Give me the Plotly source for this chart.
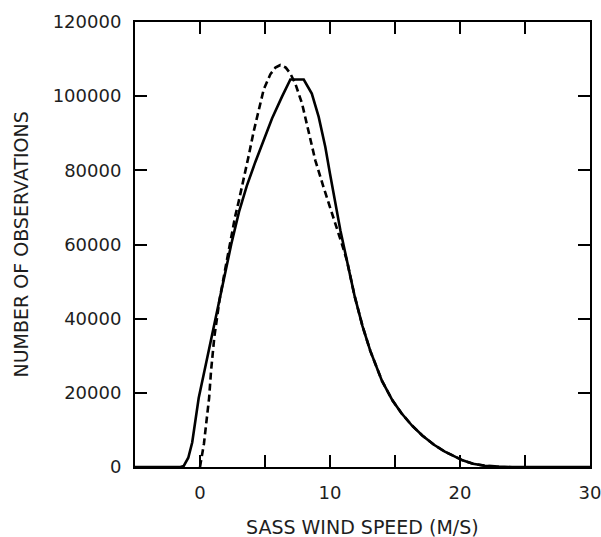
import plotly.graph_objects as go

# Solid curve (observed SASS wind speed distribution)
solid_x = [-5, -1.5, -1.25, -0.9, -0.6, -0.1, 0.5, 1.0, 1.5, 2.0, 2.4, 3.0, 3.6, 4.25, 4.9,
           5.54, 6.3, 6.95, 7.98, 8.6, 9.13, 9.64, 10.0, 10.4, 10.8, 11.3, 11.9, 12.5, 13.1,
           14.0, 14.8, 15.5, 16.3, 17.1, 18.0, 18.8, 19.5, 20.2, 21.0, 21.9, 23.0, 24.0, 30.0]
solid_y = [0, 0, 300, 2500, 6600, 18600, 28500, 37000, 45500, 53500, 60000, 68800, 75800,
           82200, 88300, 94000, 99800, 104500, 104500, 100700, 94400, 86300, 79100, 71000,
           63800, 55700, 46000, 38000, 31300, 23200, 18000, 14500, 11200, 8500, 6000, 4200,
           2900, 1800, 900, 350, 100, 0, 0]

# Dashed curve (model distribution)
dash_x = [0.0, 0.3, 0.7, 0.85, 1.1, 1.5, 2.0, 2.4, 2.7, 2.97, 3.36, 3.75, 4.13, 4.5, 4.9,
          5.41, 5.8, 6.18, 6.6, 6.95, 7.33, 7.85, 8.36, 8.87, 9.5, 10.15, 10.7, 10.9, 11.3,
          11.9, 12.5, 13.1, 14.0, 14.8, 15.5, 16.3, 17.1, 18.0, 18.8, 19.5, 20.2, 21.0,
          21.9, 23.0]
dash_y = [0, 6200, 18600, 25900, 35000, 45000, 54500, 62000, 67500, 71500, 77500, 84000,
          90500, 96300, 101800, 105900, 107700, 108400, 107700, 106100, 103400, 98000, 89900,
          82700, 75500, 68500, 63000, 60300, 55700, 46000, 38000, 31300, 23200, 18000, 14500,
          11200, 8500, 6000, 4200, 2900, 1800, 900, 350, 100]

x_tickvals = [-5, 0, 5, 10, 15, 20, 25, 30]
x_ticktext = ["", "0", "", "10", "", "20", "", "30"]
y_tickvals = [0, 20000, 40000, 60000, 80000, 100000, 120000]
y_ticktext = ["0", "20000", "40000", "60000", "80000", "100000", "120000"]

FONT = "DejaVu Sans"
TXT = "#1e1e1e"

fig = go.Figure()
fig.add_trace(go.Scatter(x=solid_x, y=solid_y, mode="lines",
                         line=dict(color="black", width=2.6), showlegend=False))
fig.add_trace(go.Scatter(x=dash_x, y=dash_y, mode="lines",
                         line=dict(color="black", width=2.6, dash="7px,4px"), showlegend=False))

axis_common = dict(showgrid=False, zeroline=False, showline=True, linecolor="black",
                   linewidth=2, mirror="ticks", ticks="inside", ticklen=12, tickwidth=1.5,
                   tickcolor="black", tickfont=dict(family=FONT, size=18, color=TXT),
                   ticklabeloverflow="allow", automargin=False)

fig.update_xaxes(range=[-5, 30], tickmode="array", tickvals=x_tickvals, ticktext=x_ticktext,
                 ticklabelstandoff=8, **axis_common)
fig.update_yaxes(range=[0, 120000], tickmode="array", tickvals=y_tickvals, ticktext=y_ticktext,
                 ticklabelstandoff=8, **axis_common)

fig.add_annotation(text="SASS WIND SPEED (M/S)", xref="paper", yref="paper",
                   x=0.5, y=0, yshift=-60, xanchor="center", yanchor="middle",
                   showarrow=False, font=dict(family=FONT, size=19, color=TXT))
fig.add_annotation(text="NUMBER OF OBSERVATIONS", xref="paper", yref="paper",
                   x=0, xshift=-115, y=0.5, xanchor="center", yanchor="middle", textangle=-90,
                   showarrow=False, font=dict(family=FONT, size=19, color=TXT))

fig.update_layout(width=601, height=537, paper_bgcolor="white", plot_bgcolor="white",
                  margin=dict(l=135, r=11, t=22, b=70))

fig.write_html("out.html")
